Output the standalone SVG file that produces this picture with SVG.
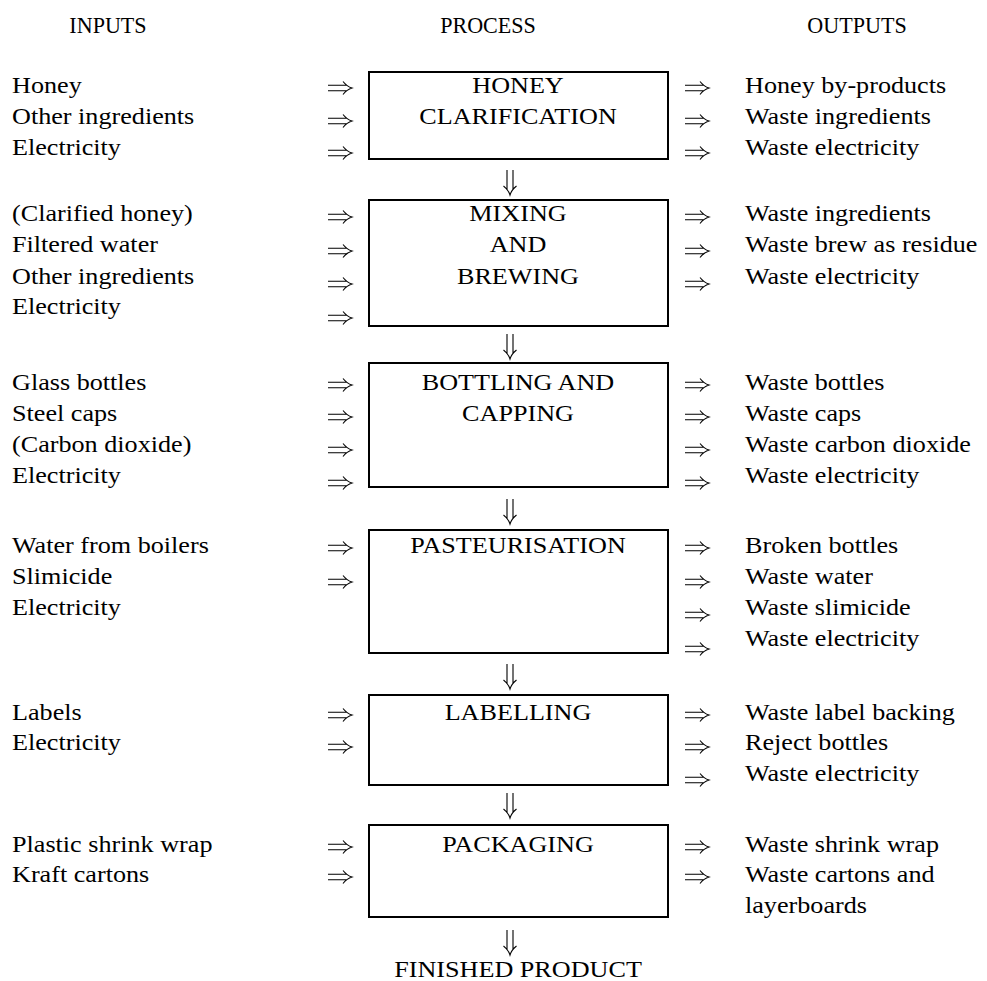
<svg xmlns="http://www.w3.org/2000/svg" width="987" height="981" viewBox="0 0 987 981">
<style>
text{font-family:"Liberation Serif","Times New Roman",serif;font-size:24px;fill:#000}
.c{text-anchor:middle}
.box{fill:#fff;stroke:#000;stroke-width:2}
.arr{fill:none;stroke:#000;stroke-width:1.1}
</style>
<defs>
<path id="ra" class="arr" d="M0,-2.8 H19 M0,2.8 H19 M15,-6.5 Q19,-1.5 24,0 Q19,1.5 15,6.5"/>
<path id="da" class="arr" d="M-3,0 V20 M3,0 V20 M-6.5,16 Q-1.5,20 0,25 Q1.5,20 6.5,16"/>
</defs>
<rect width="987" height="981" fill="#fff"/>
<g id="headings">
<text class="c" transform="translate(108,33) scale(0.92,1)">INPUTS</text>
<text class="c" transform="translate(488,33) scale(0.92,1)">PROCESS</text>
<text class="c" transform="translate(857,33) scale(0.92,1)">OUTPUTS</text>
</g>
<g id="clarification">
<rect class="box" x="369" y="72" width="299" height="87"/>
<text class="c" transform="translate(518,93) scale(1.09,1)">HONEY</text>
<text class="c" transform="translate(518,124) scale(1.09,1)">CLARIFICATION</text>
</g>
<g id="clarification-inputs">
<text transform="translate(12,93) scale(1.09,1)">Honey</text>
<text transform="translate(12,124) scale(1.09,1)">Other ingredients</text>
<text transform="translate(12,155) scale(1.09,1)">Electricity</text>
</g>
<g id="clarification-outputs">
<text transform="translate(745,93) scale(1.09,1)">Honey by-products</text>
<text transform="translate(745,124) scale(1.09,1)">Waste ingredients</text>
<text transform="translate(745,155) scale(1.09,1)">Waste electricity</text>
</g>
<g id="mixing">
<rect class="box" x="369" y="200" width="299" height="126"/>
<text class="c" transform="translate(518,221) scale(1.09,1)">MIXING</text>
<text class="c" transform="translate(518,252) scale(1.09,1)">AND</text>
<text class="c" transform="translate(518,284) scale(1.09,1)">BREWING</text>
</g>
<g id="mixing-inputs">
<text transform="translate(12,221) scale(1.09,1)">(Clarified honey)</text>
<text transform="translate(12,252) scale(1.09,1)">Filtered water</text>
<text transform="translate(12,284) scale(1.09,1)">Other ingredients</text>
<text transform="translate(12,314) scale(1.09,1)">Electricity</text>
</g>
<g id="mixing-outputs">
<text transform="translate(745,221) scale(1.09,1)">Waste ingredients</text>
<text transform="translate(745,252) scale(1.09,1)">Waste brew as residue</text>
<text transform="translate(745,284) scale(1.09,1)">Waste electricity</text>
</g>
<g id="bottling">
<rect class="box" x="369" y="363" width="299" height="124"/>
<text class="c" transform="translate(518,390) scale(1.09,1)">BOTTLING AND</text>
<text class="c" transform="translate(518,421) scale(1.09,1)">CAPPING</text>
</g>
<g id="bottling-inputs">
<text transform="translate(12,390) scale(1.09,1)">Glass bottles</text>
<text transform="translate(12,421) scale(1.09,1)">Steel caps</text>
<text transform="translate(12,452) scale(1.09,1)">(Carbon dioxide)</text>
<text transform="translate(12,483) scale(1.09,1)">Electricity</text>
</g>
<g id="bottling-outputs">
<text transform="translate(745,390) scale(1.09,1)">Waste bottles</text>
<text transform="translate(745,421) scale(1.09,1)">Waste caps</text>
<text transform="translate(745,452) scale(1.09,1)">Waste carbon dioxide</text>
<text transform="translate(745,483) scale(1.09,1)">Waste electricity</text>
</g>
<g id="pasteurisation">
<rect class="box" x="369" y="530" width="299" height="123"/>
<text class="c" transform="translate(518,553) scale(1.09,1)">PASTEURISATION</text>
</g>
<g id="pasteurisation-inputs">
<text transform="translate(12,553) scale(1.09,1)">Water from boilers</text>
<text transform="translate(12,584) scale(1.09,1)">Slimicide</text>
<text transform="translate(12,615) scale(1.09,1)">Electricity</text>
</g>
<g id="pasteurisation-outputs">
<text transform="translate(745,553) scale(1.09,1)">Broken bottles</text>
<text transform="translate(745,584) scale(1.09,1)">Waste water</text>
<text transform="translate(745,615) scale(1.09,1)">Waste slimicide</text>
<text transform="translate(745,646) scale(1.09,1)">Waste electricity</text>
</g>
<g id="labelling">
<rect class="box" x="369" y="695" width="299" height="90"/>
<text class="c" transform="translate(518,720) scale(1.09,1)">LABELLING</text>
</g>
<g id="labelling-inputs">
<text transform="translate(12,720) scale(1.09,1)">Labels</text>
<text transform="translate(12,750) scale(1.09,1)">Electricity</text>
</g>
<g id="labelling-outputs">
<text transform="translate(745,720) scale(1.09,1)">Waste label backing</text>
<text transform="translate(745,750) scale(1.09,1)">Reject bottles</text>
<text transform="translate(745,781) scale(1.09,1)">Waste electricity</text>
</g>
<g id="packaging">
<rect class="box" x="369" y="825" width="299" height="92"/>
<text class="c" transform="translate(518,852) scale(1.09,1)">PACKAGING</text>
</g>
<g id="packaging-inputs">
<text transform="translate(12,852) scale(1.09,1)">Plastic shrink wrap</text>
<text transform="translate(12,882) scale(1.09,1)">Kraft cartons</text>
</g>
<g id="packaging-outputs">
<text transform="translate(745,852) scale(1.09,1)">Waste shrink wrap</text>
<text transform="translate(745,882) scale(1.09,1)">Waste cartons and</text>
<text transform="translate(745,913) scale(1.09,1)">layerboards</text>
</g>
<g id="finished-product">
<text class="c" transform="translate(518,977) scale(1.09,1)">FINISHED PRODUCT</text>
</g>
<g id="connectors">
<use href="#ra" x="328" y="88"/><use href="#ra" x="328" y="121"/><use href="#ra" x="328" y="153"/>
<use href="#ra" x="685" y="88"/><use href="#ra" x="685" y="121"/><use href="#ra" x="685" y="153"/>
<use href="#da" x="510" y="170"/>
<use href="#ra" x="328" y="217"/><use href="#ra" x="328" y="251"/><use href="#ra" x="328" y="284"/><use href="#ra" x="328" y="318"/>
<use href="#ra" x="685" y="217"/><use href="#ra" x="685" y="251"/><use href="#ra" x="685" y="284"/>
<use href="#da" x="510" y="334"/>
<use href="#ra" x="328" y="385"/><use href="#ra" x="328" y="417"/><use href="#ra" x="328" y="450"/><use href="#ra" x="328" y="483"/>
<use href="#ra" x="685" y="385"/><use href="#ra" x="685" y="417"/><use href="#ra" x="685" y="450"/><use href="#ra" x="685" y="483"/>
<use href="#da" x="510" y="499"/>
<use href="#ra" x="328" y="548"/><use href="#ra" x="328" y="582"/>
<use href="#ra" x="685" y="548"/><use href="#ra" x="685" y="582"/><use href="#ra" x="685" y="615"/><use href="#ra" x="685" y="649"/>
<use href="#da" x="510" y="664"/>
<use href="#ra" x="328" y="715"/><use href="#ra" x="328" y="747"/>
<use href="#ra" x="685" y="715"/><use href="#ra" x="685" y="747"/><use href="#ra" x="685" y="780"/>
<use href="#da" x="510" y="793"/>
<use href="#ra" x="328" y="847"/><use href="#ra" x="328" y="877"/>
<use href="#ra" x="685" y="847"/><use href="#ra" x="685" y="877"/>
<use href="#da" x="510" y="930"/>
</g>
</svg>
